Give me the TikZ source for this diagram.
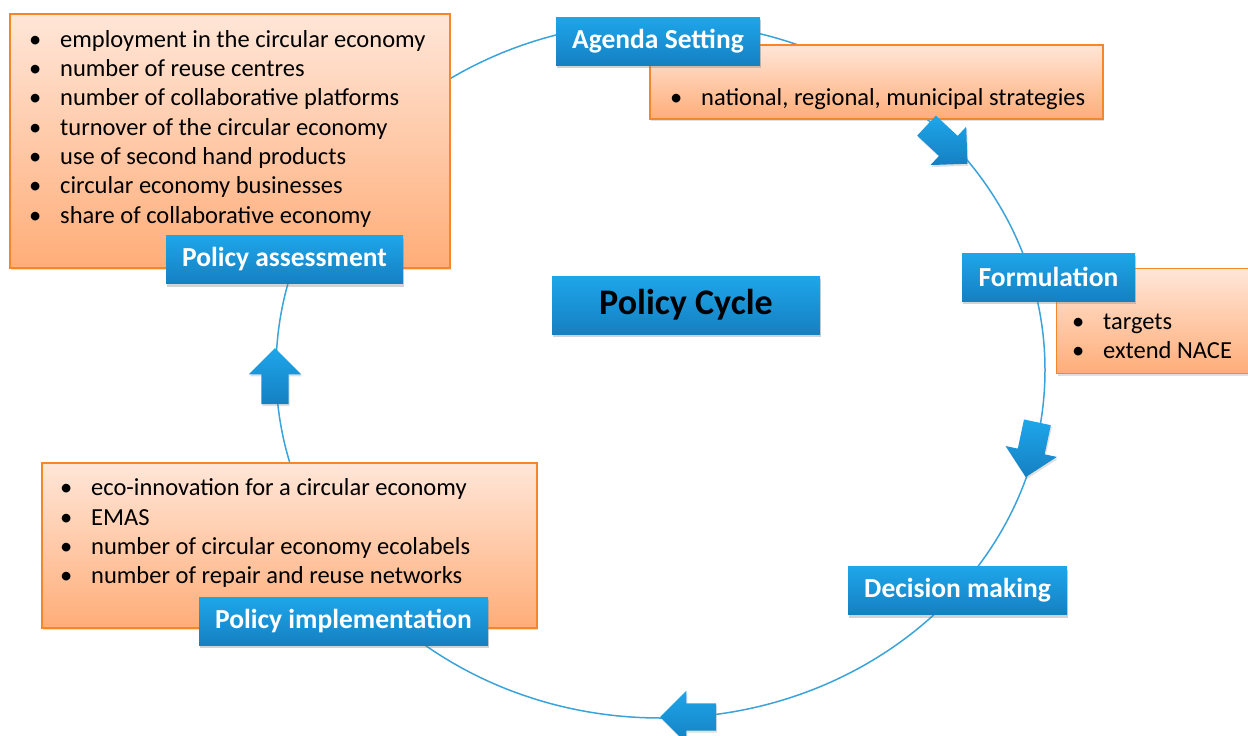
\documentclass[tikz,border=0pt]{standalone}
\usepackage{fontspec}
\setmainfont{Carlito}
\usetikzlibrary{shapes.arrows,shadows}
\definecolor{cyctop}{HTML}{1EA6EA}
\definecolor{cycbot}{HTML}{1580C2}
\definecolor{boxtop}{HTML}{FFE6D8}
\definecolor{boxbot}{HTML}{FFAD78}
\definecolor{boxline}{HTML}{F5872A}
\definecolor{ring}{HTML}{3AA3DA}
\newcommand\itm[1]{\makebox[31pt][l]{\textbullet}#1}
\begin{document}
\begin{tikzpicture}[x=1pt,y=-1pt]
    \tikzstyle{stage} = [rectangle,top color=cyctop,bottom color=cycbot,text=white,
      font=\fontsize{27.5}{30}\selectfont\bfseries,minimum height=48pt,
      drop shadow={opacity=0.35,shadow xshift=1pt,shadow yshift=-3pt}] %phase label
    \tikzstyle{panel} = [rectangle,draw=boxline,line width=1.2pt,top color=boxtop,bottom color=boxbot,
      drop shadow={opacity=0.25,shadow xshift=1pt,shadow yshift=-2pt}] %indicator box
    \tikzstyle{items} = [anchor=north west,inner sep=0pt,align=left,
      font=\fontsize{24.5}{29.3}\selectfont] %bullet list
    \tikzstyle{turn} = [single arrow,top color=cyctop,bottom color=cycbot,minimum height=56pt,
      inner xsep=0pt,inner ysep=13.5pt,single arrow head extend=12.5pt,single arrow head indent=0pt,
      drop shadow={opacity=0.25,shadow xshift=1pt,shadow yshift=-2pt}] %cycle arrow
    \useasboundingbox (0,0) rectangle (1248,736);
    % the cycle
    \draw[ring,line width=1.5pt] (660.5,370) ellipse [x radius=384.5pt,y radius=348pt];
    % boxes with indicators
    \node[panel,minimum width=440pt,minimum height=254pt](passess)at(230,141){};
    \node[items](tassess)at(29,30){\itm{employment in the circular economy}\\
      \itm{number of reuse centres}\\ \itm{number of collaborative platforms}\\
      \itm{turnover of the circular economy}\\ \itm{use of second hand products}\\
      \itm{circular economy businesses}\\ \itm{share of collaborative economy}};
    \node[panel,minimum width=453pt,minimum height=74pt](pagenda)at(876.5,82){};
    \node[items](tagenda)at(670,88.5){\itm{national, regional, municipal strategies}};
    \node[panel,minimum width=198pt,minimum height=105pt,anchor=north west](pform)at(1056,268){};
    \node[items](tform)at(1072,313.5){\itm{targets}\\ \itm{extend NACE}};
    \node[panel,minimum width=495pt,minimum height=165pt](pimpl)at(289.5,545.5){};
    \node[items](timpl)at(60,478.5){\itm{eco-innovation for a circular economy}\\ \itm{EMAS}\\
      \itm{number of circular economy ecolabels}\\ \itm{number of repair and reuse networks}};
    % phases
    \node[stage,minimum width=204pt](agenda)at(658,41){Agenda Setting};
    \node[stage,minimum width=173pt](form)at(1048.5,277){Formulation};
    \node[stage,minimum width=219pt](decide)at(957.5,590.5){Decision making};
    \node[stage,minimum width=289pt](impl)at(343.5,621){Policy implementation};
    \node[stage,minimum width=237pt](assess)at(284.5,259.5){Policy assessment};
    \node[stage,minimum width=268pt,minimum height=58pt,text=black,
      font=\fontsize{36}{40}\selectfont\bfseries](cycle)at(686,305){Policy Cycle};
    % arrows on the cycle
    \node[turn,rotate=-43](a1)at(942,140){};
    \node[turn,rotate=-102](a2)at(1033,443){};
    \node[turn,rotate=180](a3)at(695,717){};
    \node[turn,rotate=90](a4)at(275,383){};
\end{tikzpicture}
\end{document}
